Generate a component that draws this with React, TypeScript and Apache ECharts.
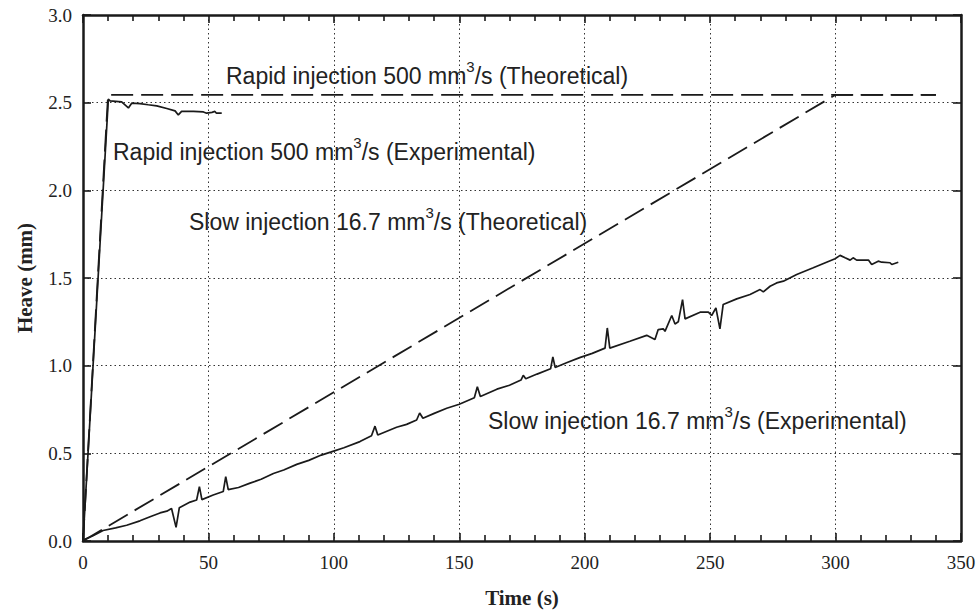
import React, { useEffect, useRef } from "react";
import * as echarts from "echarts";

// Theoretical curves (time in s, heave in mm)
const rapidTheoTime = [0, 10, 340];
const rapidTheoHeave = [0, 2.545, 2.545];
const slowTheoTime = [0, 300, 340];
const slowTheoHeave = [0, 2.545, 2.545];

// Rapid injection experimental
const rapidExpTime = [0, 10.1, 10.8, 15.4, 18.1, 19.4, 22.7, 26, 29.4, 33.4, 36.7, 38, 39.3, 44, 48, 49.3, 51.4, 52.6, 53.2, 55.3];
const rapidExpHeave = [0, 2.52, 2.51, 2.505, 2.47, 2.497, 2.495, 2.488, 2.482, 2.467, 2.453, 2.43, 2.45, 2.45, 2.447, 2.44, 2.445, 2.45, 2.44, 2.44];

// Slow injection experimental
const slowExpTime = [
  0, 4, 8, 13, 17.4, 22.7, 27, 30.7, 33.4, 35.3, 37.1, 38.4, 42.7, 45.3, 46.4, 47.4, 51.9, 55.9, 56.9, 57.9,
  62, 66.6, 71, 75.9, 80, 85.2, 90, 95, 99, 104, 110.4, 115, 116.4, 117.5, 125, 129, 133, 134.2, 135.5, 140, 145, 150, 156, 157.2, 158.4, 165,
  170, 174.6, 175.5, 176.5, 181, 186.4, 187.3, 188.2, 193, 198, 203, 208.1, 209, 210, 218, 224.7, 228, 229.3, 231.3, 232, 234.7,
  236, 237.3, 239, 240, 246, 249.3, 250.6, 252.3, 253.9, 255.2, 260.6, 265.9, 269.9, 271.2, 273.9, 276.5,
  279.2, 284.5, 291.1, 296.4, 299.8, 301.8, 303.8, 305.8, 307, 308.4, 313.1, 314.4, 317, 318.4, 321.7, 322.4, 325,
];
const slowExpHeave = [
  0.005, 0.03, 0.06, 0.075, 0.09, 0.115, 0.14, 0.16, 0.17, 0.185, 0.078, 0.19, 0.222, 0.234, 0.31, 0.236, 0.262, 0.282, 0.367, 0.293,
  0.305, 0.33, 0.352, 0.385, 0.405, 0.437, 0.46, 0.49, 0.508, 0.532, 0.567, 0.6, 0.655, 0.605, 0.649, 0.665, 0.69, 0.73, 0.7, 0.728, 0.757, 0.78, 0.817, 0.88, 0.824, 0.866,
  0.888, 0.918, 0.945, 0.925, 0.952, 0.982, 1.05, 0.99, 1.018, 1.046, 1.07, 1.1, 1.215, 1.1, 1.139, 1.173, 1.149, 1.206, 1.21, 1.196, 1.286,
  1.238, 1.25, 1.377, 1.267, 1.305, 1.305, 1.286, 1.33, 1.21, 1.349, 1.381, 1.406, 1.434, 1.421, 1.453, 1.472,
  1.482, 1.52, 1.558, 1.59, 1.61, 1.629, 1.615, 1.602, 1.615, 1.602, 1.602, 1.577, 1.596, 1.59, 1.587, 1.577, 1.59,
];

const xTicks = { min: 0, max: 350, interval: 50 };
const yTicks = { min: 0, max: 3, interval: 0.5 };

const labels = [
  { text: "Rapid injection 500 mm{sup|3}/s (Theoretical)", x: 226, y: 76 },
  { text: "Rapid injection 500 mm{sup|3}/s (Experimental)", x: 113, y: 152 },
  { text: "Slow injection 16.7 mm{sup|3}/s (Theoretical)", x: 189, y: 222 },
  { text: "Slow injection 16.7 mm{sup|3}/s (Experimental)", x: 488, y: 421 },
];

const zip = (a: number[], b: number[]) => a.map((v, i) => [v, b[i]]);

const INK = "#1a1a1a";
const SERIF = "'Liberation Serif', 'Times New Roman', serif";
const SANS = "'Liberation Sans', Arial, sans-serif";

export default function App() {
  const ref = useRef<HTMLDivElement>(null);
  useEffect(() => {
    if (!ref.current) return;
    const chart = echarts.init(ref.current, undefined, { renderer: "svg" });
    const axisLine = { show: true, onZero: false, lineStyle: { color: INK, width: 2.5 } };
    const tickStyle = { color: INK, width: 1.6 };
    const grid = { show: true, lineStyle: { color: "#333", width: 1, type: [1.5, 3] as any } };
    const option: any = {
      animation: false,
      backgroundColor: "#fff",
      grid: { left: 83, right: 18, top: 15, bottom: 74, containLabel: false },
      xAxis: [
        {
          type: "value",
          position: "bottom",
          ...xTicks,
          axisLine,
          axisTick: { show: true, inside: true, length: 8, lineStyle: tickStyle },
          minorTick: { show: true, splitNumber: 5, length: 6, lineStyle: tickStyle },
          splitLine: grid,
          axisLabel: { fontFamily: SERIF, fontSize: 19, color: "#222", margin: 12 },
          name: "Time (s)",
          nameLocation: "middle",
          nameGap: 46,
          nameTextStyle: { fontFamily: SERIF, fontSize: 21, fontWeight: "bold", color: "#222" },
        },
        {
          type: "value",
          position: "top",
          ...xTicks,
          axisLine,
          axisTick: { show: true, inside: true, length: 8, lineStyle: tickStyle },
          minorTick: { show: true, splitNumber: 5, length: 6, lineStyle: tickStyle },
          splitLine: { show: false },
          axisLabel: { show: false },
        },
      ],
      yAxis: [
        {
          type: "value",
          position: "left",
          ...yTicks,
          axisLine,
          axisTick: { show: true, inside: true, length: 8, lineStyle: tickStyle },
          splitLine: grid,
          axisLabel: {
            fontFamily: SERIF,
            fontSize: 19,
            color: "#222",
            margin: 11,
            formatter: (v: number) => v.toFixed(1),
          },
          name: "Heave (mm)",
          nameLocation: "middle",
          nameGap: 48,
          nameTextStyle: { fontFamily: SERIF, fontSize: 21, fontWeight: "bold", color: "#222" },
        },
        {
          type: "value",
          position: "right",
          ...yTicks,
          axisLine,
          axisTick: { show: true, inside: true, length: 8, lineStyle: tickStyle },
          splitLine: { show: false },
          axisLabel: { show: false },
        },
      ],
      series: [
        {
          type: "line",
          data: zip(rapidTheoTime, rapidTheoHeave),
          showSymbol: false,
          symbol: "none",
          lineStyle: { color: INK, width: 1.8, type: [22, 8] },
        },
        {
          type: "line",
          data: zip(slowTheoTime, slowTheoHeave),
          showSymbol: false,
          symbol: "none",
          lineStyle: { color: INK, width: 1.8, type: [22, 8] },
        },
        {
          type: "line",
          data: zip(rapidExpTime, rapidExpHeave),
          showSymbol: false,
          symbol: "none",
          lineStyle: { color: INK, width: 1.7 },
        },
        {
          type: "line",
          data: zip(slowExpTime, slowExpHeave),
          showSymbol: false,
          symbol: "none",
          lineStyle: { color: INK, width: 1.7 },
        },
      ],
      graphic: labels.map((l) => ({
        type: "text",
        x: l.x,
        y: l.y,
        z: 10,
        style: {
          text: l.text,
          fill: "#222",
          fontFamily: SANS,
          fontSize: 23,
          lineHeight: 34,
          align: "left",
          verticalAlign: "middle",
          rich: {
            sup: { fontFamily: SANS, fontSize: 15, lineHeight: 15, verticalAlign: "top", fill: "#222" },
          },
        },
      })),
    };
    chart.setOption(option);
    return () => chart.dispose();
  }, []);
  return (
    <div
      ref={ref}
      style={{ position: "absolute", left: 0, top: 0, width: 979, height: 615, background: "#fff" }}
    />
  );
}
